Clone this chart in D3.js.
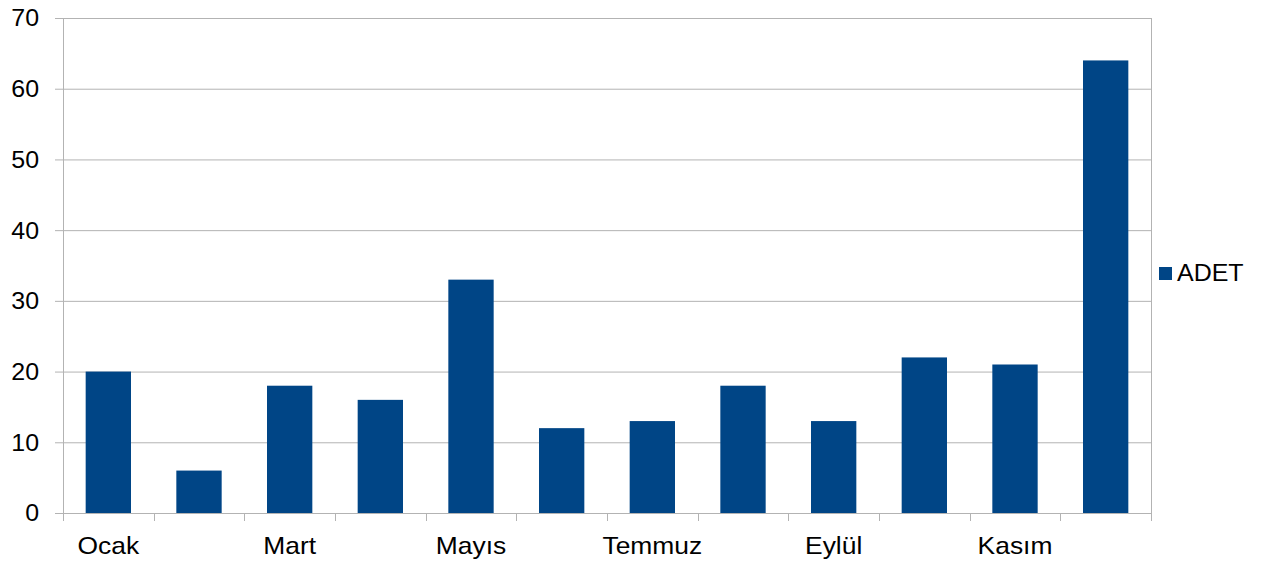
<!DOCTYPE html>
<html><head><meta charset="utf-8">
<script src="https://cdn.jsdelivr.net/npm/d3@7"></script>
<style>body{margin:0;background:#fff}svg{display:block}text{font-family:"Liberation Sans",Arial,sans-serif}</style>
</head><body>
<svg id="c" width="1265" height="563"></svg>
<script>
const categories = ["Ocak","Şubat","Mart","Nisan","Mayıs","Haziran","Temmuz","Ağustos","Eylül","Ekim","Kasım","Aralık"];
const values = [20,6,18,16,33,12,13,18,13,22,21,64];
const yTicks = [0,10,20,30,40,50,60,70];
const shownLabels = ["Ocak","Mart","Mayıs","Temmuz","Eylül","Kasım"];
const seriesName = "ADET";

const svg = d3.select("#c");
const L = 63, R = 1151, T = 18, B = 513;
const x = d3.scaleBand().domain(categories).range([L, R]).paddingInner(0.5).paddingOuter(0.25);
const xb = d3.scaleLinear().domain([0, categories.length]).range([L, R]);
const y = d3.scaleLinear().domain([0, 70]).range([B, T]);
const grid = "#b3b3b3";
const FS = 24, SX = 1.1;

// gridlines
svg.append("g").selectAll("line").data(yTicks).join("line")
  .attr("x1", L - 8).attr("x2", R).attr("y1", d => y(d) + 0.5).attr("y2", d => y(d) + 0.5)
  .attr("stroke", grid).attr("stroke-width", 1);
// y axis labels
svg.append("g").selectAll("text").data(yTicks).join("text")
  .attr("transform", d => `translate(39,${y(d)}) scale(1.04,1)`)
  .attr("dy", "0.35em").attr("text-anchor", "end")
  .attr("font-size", FS).attr("fill", "#000").text(d => d);
// vertical axis lines
svg.append("line").attr("x1", L + 0.5).attr("x2", L + 0.5).attr("y1", T).attr("y2", B + 8).attr("stroke", grid);
svg.append("line").attr("x1", R + 0.5).attr("x2", R + 0.5).attr("y1", T).attr("y2", B + 8).attr("stroke", grid);
// category boundary ticks
svg.append("g").selectAll("line").data(d3.range(1, categories.length)).join("line")
  .attr("x1", d => Math.round(xb(d)) + 0.5).attr("x2", d => Math.round(xb(d)) + 0.5)
  .attr("y1", B).attr("y2", B + 8).attr("stroke", grid);
// bars
svg.append("g").selectAll("rect").data(categories).join("rect")
  .attr("x", d => x(d)).attr("width", x.bandwidth())
  .attr("y", (d, i) => y(values[i])).attr("height", (d, i) => y(0) - y(values[i]))
  .attr("fill", "#004586");
// x labels
svg.append("g").selectAll("text").data(categories.filter(c => shownLabels.includes(c))).join("text")
  .attr("transform", d => `translate(${x(d) + x.bandwidth() / 2},554) scale(${SX},1)`)
  .attr("text-anchor", "middle")
  .attr("font-size", FS).attr("fill", "#000").text(d => d);
// legend
svg.append("rect").attr("x", 1159).attr("y", 267).attr("width", 13).attr("height", 13).attr("fill", "#004586");
svg.append("text").attr("transform", "translate(1177,281) scale(1.04,1)")
  .attr("font-size", FS).attr("fill", "#000").text(seriesName);
</script>
</body></html>
